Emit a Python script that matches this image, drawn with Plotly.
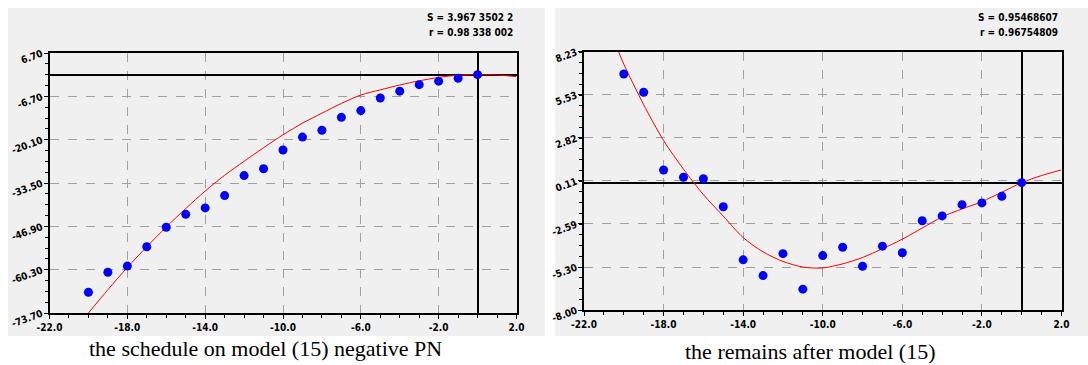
import plotly.graph_objects as go

W, H = 1088, 365

# ---------------- data ----------------
x_pts = [-20, -19, -18, -17, -16, -15, -14, -13, -12, -11, -10,
         -9, -8, -7, -6, -5, -4, -3, -2, -1, 0]

left_pts = [-67.3, -61.1, -59.2, -53.2, -47.2, -43.2, -41.2, -37.4, -31.2, -29.1, -23.3,
            -19.3, -17.2, -13.2, -11.1, -7.2, -5.1, -3.1, -2.0, -1.1, 0.0]

left_curve_x = [-20, -19, -18, -17, -16, -15, -14, -13, -12, -11, -10, -9, -8,
                -7, -6, -5, -4, -3, -2, -1, 0, 1, 2]
left_curve_y = [-73.7, -66.5, -59.6, -53.2, -47.1, -41.4, -36.0, -31.1, -26.8, -22.6, -18.6,
                -15.0, -11.9, -8.9, -6.3, -4.7, -3.2, -1.9, -0.85, -0.15, 0.0, -0.1, -0.6]

right_pts = [6.83, 5.68, 0.80, 0.34, 0.25, -1.51, -4.85, -5.84, -4.46, -6.69, -4.58,
             -4.06, -5.25, -3.99, -4.40, -2.39, -2.09, -1.38, -1.27, -0.85, 0.0]

right_curve_x = [-20.26, -20, -19, -18, -17, -16, -15, -14, -13, -12,
                 -11, -10, -9, -8, -7, -6, -5, -4, -3, -2, -1, 0, 1, 2]
right_curve_y = [8.23, 7.45, 4.9, 2.65, 0.85, -0.75, -2.1, -3.45, -4.35, -4.95,
                 -5.3, -5.36, -5.1, -4.7, -4.15, -3.55, -2.85, -2.15, -1.65, -1.19,
                 -0.6, 0.0, 0.45, 0.80]

x_tickvals = [-22, -18, -14, -10, -6, -2, 2]
x_ticktext = ["-22.0", "-18.0", "-14.0", "-10.0", "-6.0", "-2.0", "2.0"]

left_yvals = [6.70, -6.70, -20.10, -33.50, -46.90, -60.30, -73.70]
left_ytext = ["6.70", "-6.70", "-20.10", "-33.50", "-46.90", "-60.30", "-73.70"]
right_yvals = [8.23, 5.53, 2.82, 0.11, -2.59, -5.30, -8.00]
right_ytext = ["8.23", "5.53", "2.82", "0.11", "-2.59", "-5.30", "-8.00"]

left_stats = ["S = 3.967 3502 2", "r = 0.98 338 002"]
right_stats = ["S = 0.95468607", "r = 0.96754809"]
left_caption = "the schedule on model (15) negative PN"
right_caption = "the remains after model (15)"

# ---------------- figure ----------------
fig = go.Figure()

BLUE = "#0000FF"
RED = "#FF0000"

fig.add_trace(go.Scatter(x=left_curve_x, y=left_curve_y, mode="lines",
                         line=dict(color=RED, width=1, shape="spline", smoothing=0.8),
                         xaxis="x", yaxis="y", showlegend=False, hoverinfo="skip"))
fig.add_trace(go.Scatter(x=x_pts, y=left_pts, mode="markers", marker=dict(color=BLUE, size=9),
                         xaxis="x", yaxis="y", showlegend=False))
fig.add_trace(go.Scatter(x=right_curve_x, y=right_curve_y, mode="lines",
                         line=dict(color=RED, width=1, shape="spline", smoothing=0.8),
                         xaxis="x2", yaxis="y2", showlegend=False, hoverinfo="skip"))
fig.add_trace(go.Scatter(x=x_pts, y=right_pts, mode="markers", marker=dict(color=BLUE, size=9),
                         xaxis="x2", yaxis="y2", showlegend=False))

tickfont = dict(family="Liberation Sans Narrow, DejaVu Sans Condensed, Arial Narrow, sans-serif",
                size=10, color="black", weight="bold")


def xaxis(domain, anchor):
    return dict(domain=domain, anchor=anchor, range=[-22, 2], tickvals=x_tickvals, ticktext=x_ticktext,
                automargin=False,
                showline=True, mirror=True, linecolor="black", linewidth=1.5,
                ticks="outside", ticklen=4, tickcolor="black", tickfont=tickfont,
                showgrid=True, gridcolor="#A0A0A0", griddash="dash", gridwidth=1,
                zeroline=True, zerolinecolor="black", zerolinewidth=1.5,
                minor=dict(dtick=1, tick0=-22, ticks="outside", ticklen=3, tickcolor="black", showgrid=False))


def yaxis(domain, anchor, rng, vals, text):
    step = (vals[0] - vals[1]) / 4
    return dict(domain=domain, anchor=anchor, range=rng, tickvals=vals, ticktext=text,
                automargin=False,
                showline=True, mirror=True, linecolor="black", linewidth=1.5,
                ticks="outside", ticklen=4, tickcolor="black", tickfont=tickfont, tickangle=-20,
                showgrid=True, gridcolor="#A0A0A0", griddash="dash", gridwidth=1,
                zeroline=True, zerolinecolor="black", zerolinewidth=1.5,
                minor=dict(dtick=step, tick0=vals[-1], ticks="outside", ticklen=3, tickcolor="black", showgrid=False))


L = dict(x0=49.5, x1=516.5, top=53, bot=313)
R = dict(x0=584, x1=1061.5, top=51.7, bot=310)

fig.update_layout(
    width=W, height=H, margin=dict(l=0, r=0, t=0, b=0, autoexpand=False),
    paper_bgcolor="white", plot_bgcolor="white",
    xaxis=xaxis([L["x0"] / W, L["x1"] / W], "y"),
    yaxis=yaxis([1 - L["bot"] / H, 1 - L["top"] / H], "x", [left_yvals[-1], left_yvals[0]], left_yvals, left_ytext),
    xaxis2=xaxis([R["x0"] / W, R["x1"] / W], "y2"),
    yaxis2=yaxis([1 - R["bot"] / H, 1 - R["top"] / H], "x2", [right_yvals[-1], right_yvals[0]], right_yvals, right_ytext),
)

# gray panel backgrounds
fig.add_shape(type="rect", xref="paper", yref="paper", x0=8 / W, x1=545 / W, y0=1 - 336 / H, y1=1 - 8 / H,
              fillcolor="#F0F0F0", line=dict(width=0), layer="below")
fig.add_shape(type="rect", xref="paper", yref="paper", x0=555 / W, x1=1088 / W, y0=1 - 336 / H, y1=1 - 8 / H,
              fillcolor="#F0F0F0", line=dict(width=0), layer="below")

statfont = dict(family="Liberation Sans Narrow, DejaVu Sans Condensed, Arial Narrow, sans-serif",
                size=10, color="black", weight="bold")
for i, t in enumerate(left_stats):
    fig.add_annotation(text=t, xref="paper", yref="paper", x=515 / W, y=1 - (17 + 16 * i) / H,
                       xanchor="right", yanchor="middle", showarrow=False, font=statfont)
for i, t in enumerate(right_stats):
    fig.add_annotation(text=t, xref="paper", yref="paper", x=1060 / W, y=1 - (17 + 16 * i) / H,
                       xanchor="right", yanchor="middle", showarrow=False, font=statfont)

capfont = dict(family="Liberation Serif, Times New Roman, serif", size=22, color="black")
fig.add_annotation(text=left_caption, xref="paper", yref="paper", x=265 / W, y=1 - 348 / H,
                   xanchor="center", yanchor="middle", showarrow=False, font=capfont)
fig.add_annotation(text=right_caption, xref="paper", yref="paper", x=810 / W, y=1 - 351 / H,
                   xanchor="center", yanchor="middle", showarrow=False, font=capfont)

fig.write_html("out.html")
